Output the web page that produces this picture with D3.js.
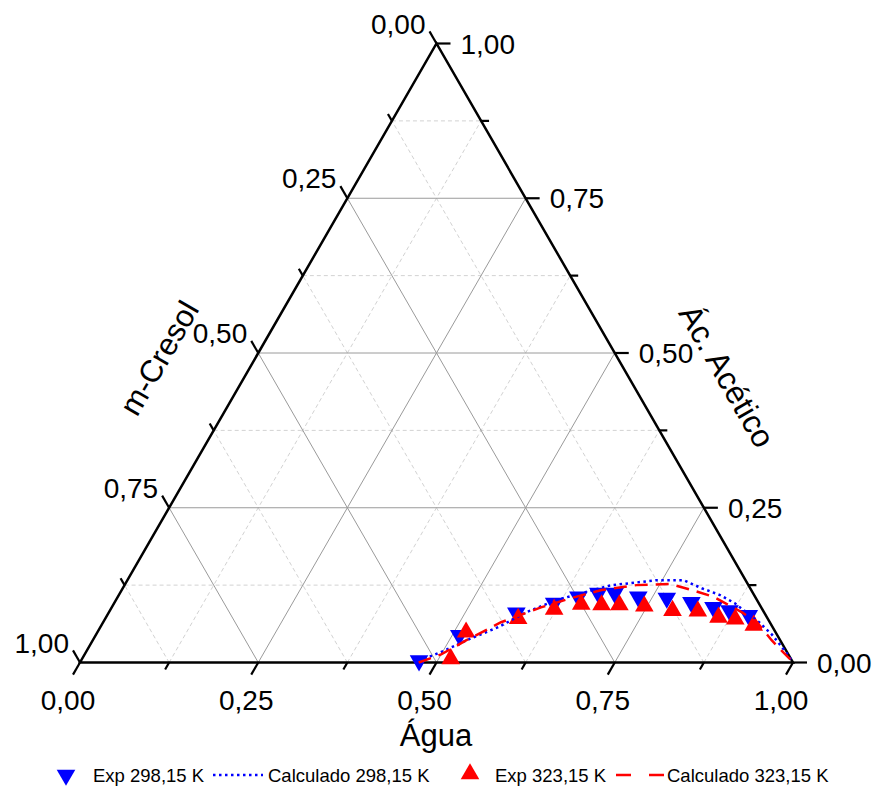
<!DOCTYPE html>
<html>
<head>
<meta charset="utf-8">
<script src="https://cdn.jsdelivr.net/npm/d3@7"></script>
<style>
  html, body { margin: 0; padding: 0; background: #fff; }
  svg { display: block; font-family: "Liberation Sans", Arial, sans-serif; }
</style>
</head>
<body>
<svg id="chart" width="879" height="789"></svg>
<script>
// ---------- DATA (fractions: water = Água, acetic = Ác. Acético; m-Cresol = 1 - water - acetic) ----------
const ticks = [0, 0.25, 0.5, 0.75, 1];
const minorTicks = [0.125, 0.375, 0.625, 0.875];
const tickLabels = ["0,00", "0,25", "0,50", "0,75", "1,00"];

const exp298Water  = [0.474, 0.510, 0.572, 0.617, 0.646, 0.671, 0.694, 0.730, 0.771, 0.809, 0.844, 0.869, 0.900];
const exp298Acetic = [0.003, 0.044, 0.080, 0.096, 0.106, 0.112, 0.112, 0.106, 0.104, 0.097, 0.089, 0.084, 0.076];

const exp323Water  = [0.517, 0.517, 0.579, 0.622, 0.656, 0.685, 0.710, 0.746, 0.789, 0.825, 0.859, 0.884, 0.915];
const exp323Acetic = [0.006, 0.049, 0.071, 0.086, 0.094, 0.093, 0.093, 0.091, 0.084, 0.083, 0.073, 0.070, 0.060];

const calc298Water  = [0.474, 0.501, 0.529, 0.558, 0.585, 0.618, 0.653, 0.683, 0.707, 0.742, 0.780, 0.812, 0.843, 0.870, 0.920, 0.948, 0.979, 0.998];
const calc298Acetic = [0.002, 0.019, 0.039, 0.057, 0.081, 0.101, 0.114, 0.125, 0.128, 0.133, 0.133, 0.120, 0.109, 0.096, 0.065, 0.045, 0.019, 0.002];

const calc323Water  = [0.475, 0.500, 0.524, 0.558, 0.602, 0.637, 0.673, 0.718, 0.764, 0.800, 0.836, 0.888, 0.917, 0.952, 0.980, 0.998];
const calc323Acetic = [0.000, 0.013, 0.036, 0.065, 0.089, 0.104, 0.117, 0.125, 0.127, 0.117, 0.106, 0.081, 0.065, 0.036, 0.015, 0.002];

const seriesNames = ["Exp 298,15 K", "Calculado 298,15 K", "Exp 323,15 K", "Calculado 323,15 K"];
const axisTitles = { bottom: "Água", left: "m-Cresol", right: "Ác. Acético" };

// ---------- GEOMETRY ----------
const svg = d3.select("#chart");
const xL = 80, W = 713, yB = 662.5, H = 619;
const sx = d3.scaleLinear().domain([0, 1]).range([xL, xL + W]);
const sy = d3.scaleLinear().domain([0, 1]).range([yB, yB - H]);
// project (water, acetic) to pixels
const P = (w, a) => [sx(w + a / 2), sy(a)];

const gGrid = svg.append("g");
function gridLinesFor(v) {
  return [
    [P(v, 0), P(v, 1 - v)],          // constant water
    [P(0, v), P(1 - v, v)],          // constant acetic
    [P(1 - v, 0), P(0, 1 - v)]       // constant cresol
  ];
}
minorTicks.forEach(v => {
  gridLinesFor(v).forEach(([p, q]) => {
    gGrid.append("line").attr("x1", p[0]).attr("y1", p[1]).attr("x2", q[0]).attr("y2", q[1])
      .attr("stroke", "#d2d2d2").attr("stroke-width", 1).attr("stroke-dasharray", "4,3");
  });
});
ticks.slice(1, 4).forEach(v => {
  gridLinesFor(v).forEach(([p, q]) => {
    gGrid.append("line").attr("x1", p[0]).attr("y1", p[1]).attr("x2", q[0]).attr("y2", q[1])
      .attr("stroke", "#9a9a9a").attr("stroke-width", 1);
  });
});

// ---------- AXES ----------
const gAx = svg.append("g");
const A = P(0, 0), B = P(1, 0), C = P(0, 1);
gAx.append("path").attr("d", `M${A[0]},${A[1]}L${B[0]},${B[1]}L${C[0]},${C[1]}Z`)
  .attr("fill", "none").attr("stroke", "#000").attr("stroke-width", 2.5).attr("stroke-linejoin", "miter");

const c60 = 0.5, s60 = Math.sqrt(3) / 2;
function tick(p, dx, dy, len) {
  gAx.append("line").attr("x1", p[0]).attr("y1", p[1]).attr("x2", p[0] + dx * len).attr("y2", p[1] + dy * len)
    .attr("stroke", "#000").attr("stroke-width", 2.2);
}
const allT = ticks.map(v => [v, 14]).concat(minorTicks.map(v => [v, 8]));
allT.forEach(([v, len]) => {
  tick(P(v, 0), -c60, s60, len);          // water (bottom) - down-left
  tick(P(1 - v, v), 1, 0, len);           // acetic (right) - horizontal right
  tick(P(0, 1 - v), -c60, -s60, len);     // cresol (left) - up-left
});

const gLab = svg.append("g").attr("font-size", 28).attr("fill", "#000");
ticks.forEach((v, i) => {
  const pb = P(v, 0);
  gLab.append("text").attr("x", pb[0] - 12).attr("y", pb[1] + 47).attr("text-anchor", "middle").text(tickLabels[i]);
  const pr = P(1 - v, v);
  gLab.append("text").attr("x", pr[0] + 24).attr("y", pr[1] + 10).attr("text-anchor", "start").text(tickLabels[i]);
  const pl = P(0, 1 - v);
  gLab.append("text").attr("x", pl[0] - 11).attr("y", pl[1] - 10).attr("text-anchor", "end").text(tickLabels[i]);
});

// titles
svg.append("text").attr("x", 436).attr("y", 746).attr("text-anchor", "middle").attr("font-size", 31).text(axisTitles.bottom);
svg.append("text").attr("transform", "translate(159,358) rotate(-60)").attr("text-anchor", "middle")
  .attr("dy", "0.35em").attr("font-size", 31).text(axisTitles.left);
svg.append("text").attr("transform", "translate(727,376) rotate(60)").attr("text-anchor", "middle")
  .attr("dy", "0.35em").attr("font-size", 32).text(axisTitles.right);

// ---------- DATA MARKS ----------
const tri = d3.symbol().type(d3.symbolTriangle).size(150);
const line = d3.line().x(d => d[0]).y(d => d[1]);

const e298 = exp298Water.map((w, i) => P(w, exp298Acetic[i]));
const e323 = exp323Water.map((w, i) => P(w, exp323Acetic[i]));
const c298 = calc298Water.map((w, i) => P(w, calc298Acetic[i]));
const c323 = calc323Water.map((w, i) => P(w, calc323Acetic[i]));

svg.append("g").selectAll("path").data(e298).join("path")
  .attr("d", tri).attr("transform", d => `translate(${d[0]},${d[1]}) rotate(180)`).attr("fill", "#0000ff");
svg.append("g").selectAll("path").data(e323).join("path")
  .attr("d", tri).attr("transform", d => `translate(${d[0]},${d[1]})`).attr("fill", "#ff0000");

svg.append("path").attr("d", line(c298)).attr("fill", "none").attr("stroke", "#0000ff")
  .attr("stroke-width", 2.5).attr("stroke-dasharray", "2.5,3.5");
svg.append("path").attr("d", line(c323)).attr("fill", "none").attr("stroke", "#ff0000")
  .attr("stroke-width", 2.5).attr("stroke-dasharray", "13,8");

// ---------- LEGEND ----------
const lg = svg.append("g").attr("font-size", 18.5);
const ly = 775;
lg.append("path").attr("d", tri).attr("transform", `translate(66,${ly}) rotate(180)`).attr("fill", "#0000ff");
lg.append("text").attr("x", 93).attr("y", ly + 7).text(seriesNames[0]);
lg.append("line").attr("x1", 213).attr("x2", 263).attr("y1", ly).attr("y2", ly)
  .attr("stroke", "#0000ff").attr("stroke-width", 2.5).attr("stroke-dasharray", "2.5,3.5");
lg.append("text").attr("x", 268).attr("y", ly + 7).text(seriesNames[1]);
lg.append("path").attr("d", tri).attr("transform", `translate(470,${ly - 1})`).attr("fill", "#ff0000");
lg.append("text").attr("x", 495).attr("y", ly + 7).text(seriesNames[2]);
lg.append("line").attr("x1", 616).attr("x2", 664).attr("y1", ly).attr("y2", ly)
  .attr("stroke", "#ff0000").attr("stroke-width", 2.5).attr("stroke-dasharray", "15,18");
lg.append("text").attr("x", 667).attr("y", ly + 7).text(seriesNames[3]);
</script>
</body>
</html>
